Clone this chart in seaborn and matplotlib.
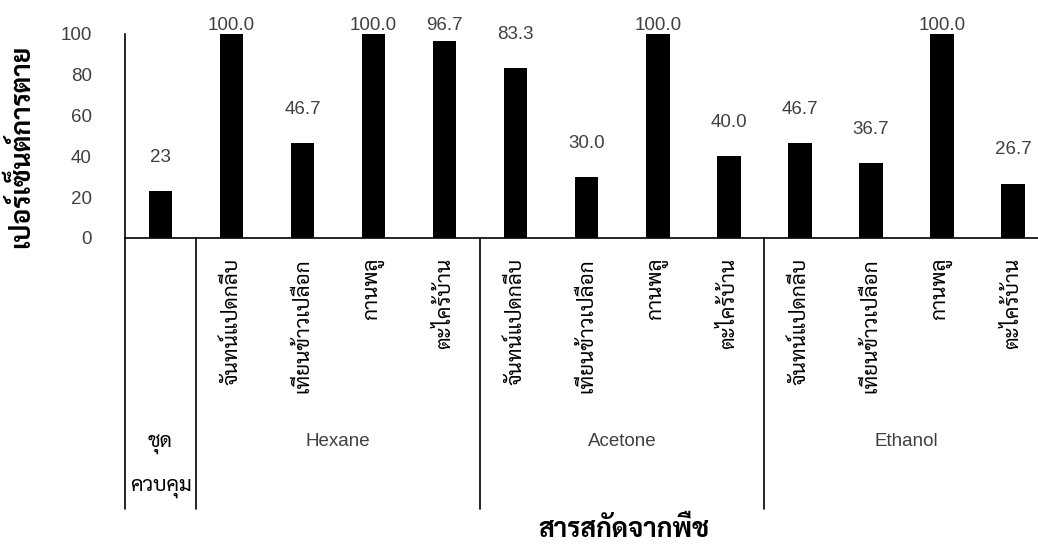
import pandas as pd
import matplotlib
matplotlib.use("Agg")
import matplotlib.pyplot as plt
import seaborn as sns
from matplotlib.lines import Line2D
from matplotlib.transforms import blended_transform_factory

# Mortality (%) of each plant extract, grouped by extraction solvent
control_label = ["ชุด", "ควบคุม"]
solvents = ["Hexane", "Acetone", "Ethanol"]
plants = ["จันทน์แปดกลีบ", "เทียนข้าวเปลือก", "กานพลู", "ตะไคร้บ้าน"]
control_mortality = [23]
hexane_mortality = [100.0, 46.7, 100.0, 96.7]
acetone_mortality = [83.3, 30.0, 100.0, 40.0]
ethanol_mortality = [46.7, 36.7, 100.0, 26.7]
y_ticks = [0, 20, 40, 60, 80, 100]
y_title = "เปอร์เซ็นต์การตาย"
x_title = "สารสกัดจากพืช"

rows = [{"key": "control", "group": "control", "plant": "", "value": control_mortality[0],
         "label": f"{control_mortality[0]:.0f}"}]
for solvent, vals in zip(solvents, [hexane_mortality, acetone_mortality, ethanol_mortality]):
    for plant, v in zip(plants, vals):
        rows.append({"key": f"{solvent}|{plant}", "group": solvent, "plant": plant,
                     "value": v, "label": f"{v:.1f}"})
df = pd.DataFrame(rows)

sns.set_theme(style="white")
plt.rcParams["font.family"] = ["Liberation Sans", "Sarabun", "DejaVu Sans"]
thai = ["Sarabun", "Liberation Sans"]

W, H = 1038, 544
fig = plt.figure(figsize=(W / 100, H / 100), dpi=100)
ax = fig.add_axes([125 / W, (H - 238) / H, (1048.5 - 125) / W, (238 - 34) / H])

sns.barplot(data=df, x="key", y="value", order=list(df["key"]), color="black",
            saturation=1, width=0.33, errorbar=None, linewidth=0, ax=ax)

ax.set_xlim(-0.5, len(df) - 0.5)
ax.set_ylim(0, 100)
ax.set_yticks(y_ticks)
ax.set_xticks([])
ax.set_xlabel("")
ax.set_ylabel("")
for side in ["top", "right"]:
    ax.spines[side].set_visible(False)
for side in ["left", "bottom"]:
    ax.spines[side].set_color("black")
    ax.spines[side].set_linewidth(1.2)
ax.tick_params(axis="y", length=0, pad=24, labelsize=13.5, labelcolor="#404040")

text_color = "#404040"

# value labels above the bars, kept inside the plotting area
for i, r in df.iterrows():
    ax.text(i, min(r["value"] + 16.5, 104), r["label"], ha="center", va="center",
            fontsize=13.5, color=text_color, clip_on=False)

# two-level category axis below the baseline
tr = blended_transform_factory(ax.transData, fig.transFigure)
for i, r in df.iterrows():
    if r["group"] != "control":
        ax.text(i, 1 - 258 / H, r["plant"], rotation=90, ha="center", va="top",
                fontsize=15, color="black", family=thai, transform=tr, clip_on=False)

ax.text(0, 1 - 443 / H, control_label[0], ha="center", va="center", fontsize=15,
        color="black", family=thai, transform=tr)
ax.text(0, 1 - 487 / H, control_label[1], ha="center", va="center", fontsize=15,
        color="black", family=thai, transform=tr)
for k, solvent in enumerate(solvents):
    center = 1 + 4 * k + 1.5
    ax.text(center, 1 - 442 / H, solvent, ha="center", va="center", fontsize=13.5,
            color=text_color, transform=tr)

for xb in [-0.5, 0.5, 4.5, 8.5]:
    fig.add_artist(Line2D([xb, xb], [1 - 238 / H, 1 - 509 / H], transform=tr,
                          color="black", linewidth=1.2, clip_on=False))

fig.text(21 / W, 1 - 146 / H, y_title, rotation=90, ha="center", va="center",
         fontsize=19, fontweight="bold", color="black", family=thai)
fig.text(624 / W, 1 - 530 / H, x_title, ha="center", va="center",
         fontsize=19, fontweight="bold", color="black", family=thai)

fig.savefig("out.png", dpi=100)
